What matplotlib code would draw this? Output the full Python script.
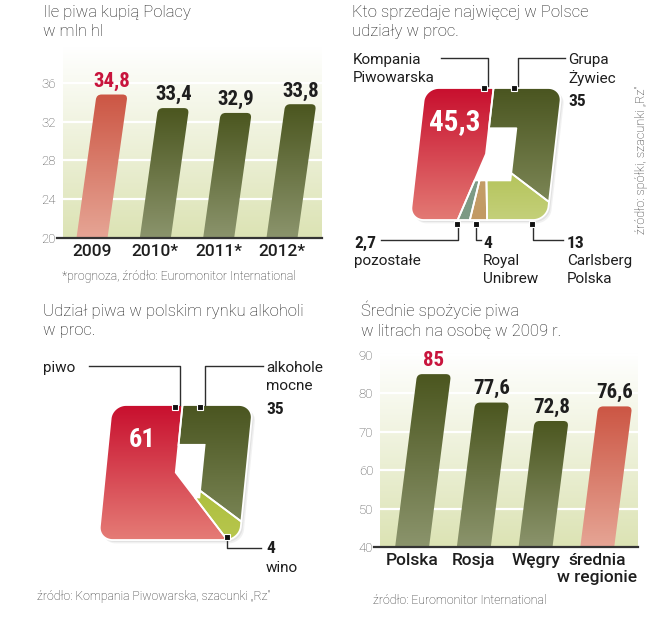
import numpy as np
import matplotlib
matplotlib.use('Agg')
import matplotlib.pyplot as plt
from matplotlib.patches import Polygon, FancyBboxPatch, Rectangle
from matplotlib.transforms import Affine2D
from matplotlib.colors import LinearSegmentedColormap
from matplotlib.lines import Line2D
from matplotlib import font_manager as fm

# ---------------- data ----------------
years = ['2009', '2010*', '2011*', '2012*']
beer_sales = [34.8, 33.4, 32.9, 33.8]
sales_ticks = [20, 24, 28, 32, 36]

brewers = ['Kompania Piwowarska', 'pozostałe', 'Royal Unibrew', 'Carlsberg Polska', 'Grupa Żywiec']
brewer_shares = [45.3, 2.7, 4, 13, 35]

alcohol_types = ['piwo', 'wino', 'alkohole mocne']
alcohol_shares = [61, 4, 35]

countries = ['Polska', 'Rosja', 'Węgry', 'średnia\nw regionie']
consumption = [85, 77.6, 72.8, 76.6]
consumption_ticks = [40, 50, 60, 70, 80, 90]

# ---------------- style ----------------
names = {f.name for f in fm.fontManager.ttflist}
BASE = 'Roboto' if 'Roboto' in names else 'DejaVu Sans'
NARROW = next((n for n in ['Roboto Condensed', 'Liberation Sans Narrow'] if n in names), BASE)
plt.rcParams['font.family'] = [BASE, 'DejaVu Sans']

RED_TXT = '#c8143c'
DARK = '#1e1e1e'
RED_BAR = ('#cc5644', '#e6a595')      # top, bottom
GREEN_BAR = ('#4b561f', '#8b946c')
BG = ('#ffffff', '#dce3b4')

W, H = 659, 640
fig = plt.figure(figsize=(W / 100, H / 100), dpi=100)


def px_axes(x0, y0, x1, y1):
    return fig.add_axes([x0 / W, 1 - y1 / H, (x1 - x0) / W, (y1 - y0) / H])


def ptext(x, y, s, **kw):
    kw.setdefault('va', 'baseline')
    kw.setdefault('ha', 'left')
    return fig.text(x / W, 1 - y / H, s, **kw)


def pline(xs, ys):
    fig.add_artist(Line2D([x / W for x in xs], [1 - y / H for y in ys],
                          color='#2e2e2e', lw=1.0, transform=fig.transFigure))


def psquare(x, y, s=6.5):
    fig.add_artist(Rectangle(((x - s / 2) / W, 1 - (y + s / 2) / H), s / W, s / H,
                             transform=fig.transFigure, facecolor='#111111',
                             edgecolor='white', lw=0.8, zorder=5))


def fmt(v):
    return f'{v:g}'.replace('.', ',')


def grad_fill(ax, clip_patch, x0, x1, y0, y1, c_top, c_bot, z=2):
    cmap = LinearSegmentedColormap.from_list('g', [c_bot, c_top])
    arr = np.linspace(0, 1, 256).reshape(-1, 1)
    im = ax.imshow(arr, extent=(x0, x1, y0, y1), origin='lower', cmap=cmap,
                   aspect='auto', interpolation='bilinear', zorder=z)
    if clip_patch is not None:
        im.set_clip_path(clip_patch)
    return im


TITLE = dict(fontsize=12, fontweight='light', color='#1c1c1c')
SRC = dict(fontsize=8.8, fontweight='light', color='#2a2a2a')
LBL = dict(fontsize=11, fontweight='normal', color=DARK)
NUM = dict(fontsize=12.5, fontweight='bold', color=DARK, family=[NARROW, BASE])


def bar_chart(rect, cats, vals, ylim, ticks, xlim, bar_cols, lbl_cols,
              width, shear_px, gap, r_px=5):
    ax = px_axes(*rect)
    y0, y1 = ylim
    xl, xr = xlim
    ppx = (rect[2] - rect[0]) / (xr - xl)
    ppy = (rect[3] - rect[1]) / (y1 - y0)
    shear = shear_px * ppy / ppx
    # background gradient + white grid
    grad_fill(ax, None, xl, xr, y0, y1, BG[0], BG[1], z=0)
    for t in ticks[1:]:
        ax.axhline(t, color='white', lw=1.6, zorder=1)
    tr = Affine2D(np.array([[1, shear, -shear * y0], [0, 1, 0], [0, 0, 1]])) + ax.transData
    for i, (v, cols, lc) in enumerate(zip(vals, bar_cols, lbl_cols)):
        patch = FancyBboxPatch((i - width / 2, y0 - 3), width, v - y0 + 3,
                               boxstyle=f'round,pad=0,rounding_size={r_px / ppx}',
                               mutation_aspect=ppx / ppy, transform=tr,
                               facecolor='none', edgecolor='none', zorder=3)
        ax.add_patch(patch)
        grad_fill(ax, patch, xl, xr + 1, y0, v, cols[0], cols[1], z=2)
        ax.text(i + shear * (v - y0), v + gap, fmt(v), ha='center', va='baseline',
                fontsize=15, fontweight='bold', color=lc, family=[NARROW, BASE], zorder=6)
    ax.plot([xl - 6 / ppx, xr], [y0, y0], color='#333333', lw=1.6, clip_on=False, zorder=5)
    ax.set_xlim(xl, xr)
    ax.set_ylim(y0, y1)
    for s in ax.spines.values():
        s.set_visible(False)
    ax.set_yticks(ticks)
    ax.set_yticklabels([str(t) for t in ticks])
    ax.set_xticks(range(len(cats)))
    ax.set_xticklabels(cats)
    ax.tick_params(axis='y', length=0, pad=5, labelsize=9.5, labelcolor='#4a4a4a')
    ax.tick_params(axis='x', length=0, pad=4, labelsize=12.5, labelcolor=DARK)
    for lab in ax.get_yticklabels():
        lab.set_fontweight('light')
    for lab in ax.get_xticklabels():
        lab.set_fontweight('medium')
    return ax


def rs_hit(ang, r):
    t = np.radians(ang)
    dx, dy = -np.sin(t), np.cos(t)
    m = max(abs(dx), abs(dy))
    px_, py_ = dx / m, dy / m
    if abs(px_) > 1 - r and abs(py_) > 1 - r:
        cx, cy = np.sign(px_) * (1 - r), np.sign(py_) * (1 - r)
        b = -2 * (dx * cx + dy * cy)
        c = cx * cx + cy * cy - r * r
        tt = (-b + np.sqrt(b * b - 4 * c)) / 2
        return (tt * dx, tt * dy)
    return (px_, py_)


def rect_hit(ang, hole):
    xl, xr, yb, yt = hole
    t = np.radians(ang)
    dx, dy = -np.sin(t), np.cos(t)
    cands = []
    if dx > 1e-9:
        cands.append(xr / dx)
    if dx < -1e-9:
        cands.append(xl / dx)
    if dy > 1e-9:
        cands.append(yt / dy)
    if dy < -1e-9:
        cands.append(yb / dy)
    tt = min(cands)
    return (tt * dx, tt * dy)


def square_pie(center, half, shear, vals, colors, hole, r_round=0.2):
    cx, cy = center
    hx, hy = half
    ax = px_axes(cx - 1.5 * hx, cy - 1.25 * hy, cx + 1.5 * hx, cy + 1.25 * hy)
    tr = Affine2D(np.array([[1, shear, 0], [0, 1, 0], [0, 0, 1]])) + ax.transData
    # soft shadow behind the shape, then a white base so gaps and hole stay white
    outline = [rs_hit(t, r_round) for t in np.linspace(0, 360, 720)]
    for off, alpha in [(0.05, 0.10), (0.03, 0.12)]:
        ax.add_patch(Polygon([(x + off, y - off) for x, y in outline], closed=True,
                             transform=tr, facecolor='#7a7a7a', edgecolor='none',
                             alpha=alpha, zorder=1))
    ax.add_patch(Polygon(outline, closed=True, transform=tr, facecolor='white',
                         edgecolor='none', zorder=1.5))
    total = sum(vals)
    a = 0.0
    for k, (v, (ctop, cbot)) in enumerate(zip(vals, colors)):
        a0, a1 = a, a + 360.0 * v / total
        a = a1
        angs = np.linspace(a0, a1, max(4, int((a1 - a0) * 4)))
        outer = [rs_hit(t, r_round) for t in angs]
        if k == 0:
            inner = [(0.0, 0.0)]
        else:
            inner = [rect_hit(t, hole) for t in angs[::-1]]
        patch = Polygon(outer + inner, closed=True, transform=tr, facecolor='none',
                        edgecolor='white', lw=1.3, zorder=4)
        ax.add_patch(patch)
        grad_fill(ax, patch, -1.5, 1.5, -1, 1, ctop, cbot, z=2)
    ax.set_xlim(-1.5, 1.5)
    ax.set_ylim(-1.25, 1.25)
    ax.axis('off')
    return ax


# ================= chart 1: beer sales =================
ptext(43, 17, 'Ile piwa kupią Polacy', **TITLE)
ptext(43, 36, 'w mln hl', **TITLE)
bar_chart((63, 47, 322, 238), years, beer_sales, (20, 39.7), sales_ticks,
          (-0.458, 3.632), [RED_BAR, GREEN_BAR, GREEN_BAR, GREEN_BAR],
          [RED_TXT, DARK, DARK, DARK], width=0.49, shear_px=0.14, gap=0.8)
ptext(62, 280, '*prognoza, źródło: Euromonitor International', **SRC)

# ================= chart 2: brewers =================
ptext(352, 17, 'Kto sprzedaje najwięcej w Polsce', **TITLE)
ptext(352, 36, 'udziały w proc.', **TITLE)
brewer_colors = [('#c80f2e', '#e37a74'), ('#86a08c', '#7c9a84'), ('#c9a46c', '#c29a64'),
                 ('#98ad22', '#c4d07a'), ('#4a5520', '#848e5e')]
square_pie((486, 154), (68.5, 66), 0.11, brewer_shares, brewer_colors,
           hole=(-0.6, 0.4, -0.4, 0.39))
ptext(455, 122, fmt(brewer_shares[0]), ha='center', va='center', fontsize=21,
      fontweight='bold', color='white', family=[NARROW, BASE])
ptext(353, 64, 'Kompania', **LBL)
ptext(353, 82, 'Piwowarska', **LBL)
pline([441, 488, 488], [58, 58, 86])
psquare(484, 88)
ptext(568, 64, 'Grupa', **LBL)
ptext(568, 83, 'Żywiec', **LBL)
ptext(568, 106, fmt(brewer_shares[4]), **NUM)
pline([565, 518, 518], [58, 58, 86])
psquare(514, 88)
ptext(354, 248, fmt(brewer_shares[1]), **NUM)
ptext(354, 265, 'pozostałe', **LBL)
pline([381, 458, 458], [240, 240, 225])
psquare(457, 224)
ptext(483, 248, fmt(brewer_shares[2]), **NUM)
ptext(483, 265, 'Royal', **LBL)
ptext(483, 283, 'Unibrew', **LBL)
pline([476, 476, 481], [225, 240, 240])
psquare(476, 224)
ptext(567, 248, fmt(brewer_shares[3]), **NUM)
ptext(567, 265, 'Carlsberg', **LBL)
ptext(567, 283, 'Polska', **LBL)
pline([533, 533, 563], [225, 240, 240])
psquare(532, 224)
ptext(641, 160, 'źródło: spółki, szacunki „Rz”', rotation=90, ha='center', va='center',
      fontsize=9.2, fontweight='light', color='#2a2a2a')

# ================= chart 3: alcohol market =================
ptext(43, 316, 'Udział piwa w polskim rynku alkoholi', **TITLE)
ptext(43, 335, 'w proc.', **TITLE)
alcohol_colors = [('#c80f2e', '#e57c76'), ('#9fb323', '#b7c64e'), ('#4a5520', '#808b5c')]
square_pie((175.75, 472.5), (70.5, 67.5), 0.096, alcohol_shares, alcohol_colors,
           hole=(-0.6, 0.37, -0.37, 0.41))
ptext(142, 440, fmt(alcohol_shares[0]), ha='center', va='center', fontsize=19,
      fontweight='bold', color='white', family=[NARROW, BASE])
ptext(43, 372, 'piwo', **LBL)
pline([89, 180, 180], [366, 366, 405])
psquare(175, 407)
ptext(266, 372, 'alkohole', **LBL)
ptext(266, 390, 'mocne', **LBL)
ptext(266, 414, fmt(alcohol_shares[2]), **NUM)
pline([263, 205, 205], [366, 366, 405])
psquare(200, 407)
ptext(266, 553, fmt(alcohol_shares[1]), **NUM)
ptext(266, 572, 'wino', **LBL)
pline([227, 227, 261], [539, 548, 548])
psquare(227, 537)
ptext(37, 600, 'źródło: Kompania Piwowarska, szacunki „Rz”', **SRC)

# ================= chart 4: consumption =================
ptext(361, 316, 'Średnie spożycie piwa', **TITLE)
ptext(361, 335, 'w litrach na osobę w 2009 r.', **TITLE)
bar_chart((380, 353, 638, 547), countries, consumption, (40, 90.5), consumption_ticks,
          (-0.52, 3.66), [GREEN_BAR, GREEN_BAR, GREEN_BAR, RED_BAR],
          [RED_TXT, DARK, DARK, DARK], width=0.55, shear_px=0.127, gap=2.2)
ptext(373, 604, 'źródło: Euromonitor International', **SRC)

fig.savefig('out.png', dpi=100, facecolor='white')
